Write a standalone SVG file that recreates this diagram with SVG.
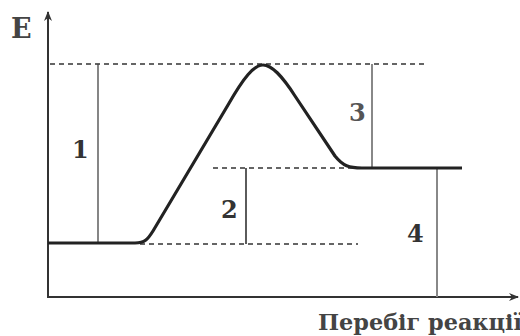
<svg xmlns="http://www.w3.org/2000/svg" width="520" height="336" viewBox="0 0 520 336">
<style>
.lbl{font-family:"DejaVu Serif","Liberation Serif",serif;font-size:24px;font-weight:bold;fill:#333}
.ax{font-family:"DejaVu Serif","Liberation Serif",serif;font-size:27px;font-weight:bold;fill:#444}
.cap{font-family:"DejaVu Serif","Liberation Serif",serif;font-size:22px;font-weight:bold;fill:#444}
.dash{stroke:#333;stroke-width:1.3;stroke-dasharray:5,4;fill:none}
.axis{stroke:#333;stroke-width:2;fill:none}
</style>
<defs>
<marker id="ah" markerWidth="10" markerHeight="8" refX="9" refY="4" orient="auto" markerUnits="userSpaceOnUse">
<path d="M0,0 L10,4 L0,8 L3,4 Z" fill="#333"/>
</marker>
</defs>
<rect width="520" height="336" fill="#fff"/>
<g id="connectors">
<line class="axis" x1="48" y1="297" x2="48" y2="12" marker-end="url(#ah)"/>
<line class="axis" x1="47" y1="297" x2="518" y2="297" marker-end="url(#ah)"/>
<line class="dash" x1="50" y1="64" x2="428" y2="64"/>
<line class="dash" x1="213" y1="168" x2="360" y2="168"/>
<line class="dash" x1="140" y1="244" x2="358" y2="244"/>
<line x1="98" y1="64" x2="98" y2="243" stroke="#444" stroke-width="1.3"/>
<line x1="246" y1="168" x2="246" y2="244" stroke="#333" stroke-width="1.6"/>
<line x1="372" y1="64" x2="372" y2="168" stroke="#888" stroke-width="2"/>
<line x1="437" y1="168" x2="437" y2="297" stroke="#888" stroke-width="2"/>
<path d="M48,243 L135,243 C145,243 148,239 153,231 L228,105 C244,77 254,65 263,65 C272,65 282,76 295,96 L335,156 C343,166 349,168 362,168 L462,168" fill="none" stroke="#222" stroke-width="3.2" stroke-linejoin="round"/>
</g>
<g id="label-E"><text class="ax" x="11" y="38">E</text></g>
<g id="label-1"><text class="lbl" x="72" y="158">1</text></g>
<g id="label-2"><text class="lbl" x="221" y="218">2</text></g>
<g id="label-3"><text class="lbl" x="349" y="121" style="fill:#555">3</text></g>
<g id="label-4"><text class="lbl" x="407" y="242">4</text></g>
<g id="label-x"><text class="cap" x="318" y="330" textLength="204" lengthAdjust="spacingAndGlyphs">Перебіг реакції</text></g>
</svg>
